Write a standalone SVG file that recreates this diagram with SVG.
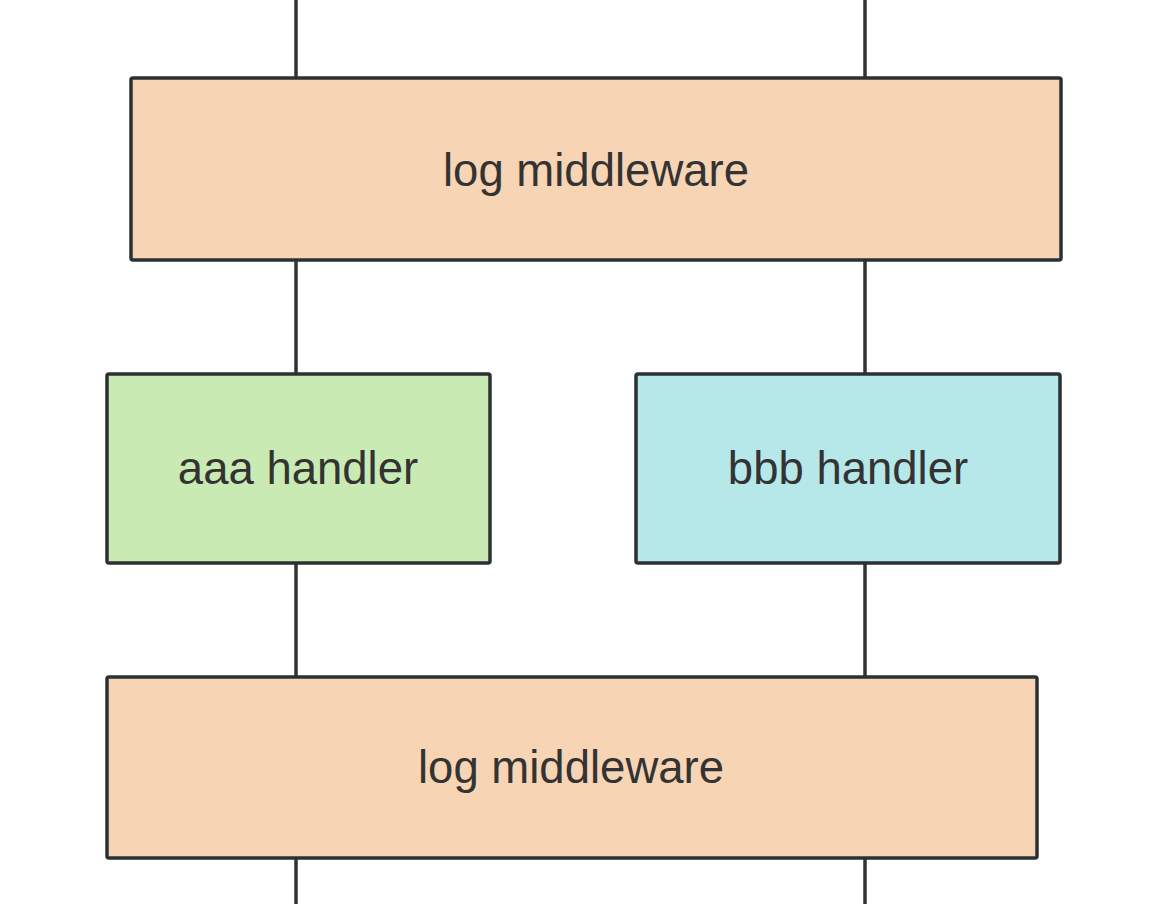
<svg xmlns="http://www.w3.org/2000/svg" width="1158" height="904" viewBox="0 0 1158 904">
<style>
.box{stroke:#2b3035;stroke-width:3.5}
.lbl{font-family:"Liberation Sans",Arial,sans-serif;font-size:45.5px;fill:#333;text-anchor:middle;dominant-baseline:central}
.conn{stroke:#333;stroke-width:3.5;fill:none}
</style>
<rect width="1158" height="904" fill="#fff"/>
<g id="connectors">
<line class="conn" x1="296" y1="0" x2="296" y2="78"/>
<line class="conn" x1="865" y1="0" x2="865" y2="78"/>
<line class="conn" x1="296" y1="260" x2="296" y2="374"/>
<line class="conn" x1="865" y1="260" x2="865" y2="374"/>
<line class="conn" x1="296" y1="563" x2="296" y2="677"/>
<line class="conn" x1="865" y1="563" x2="865" y2="677"/>
<line class="conn" x1="296" y1="858" x2="296" y2="904"/>
<line class="conn" x1="865" y1="858" x2="865" y2="904"/>
</g>
<g id="log1">
<rect class="box" x="131" y="78" width="930" height="182" rx="2" fill="#f7d4b3"/>
<text class="lbl" x="596" y="170">log middleware</text>
</g>
<g id="aaa">
<rect class="box" x="107" y="374" width="383" height="189" rx="2" fill="#c9ebb3"/>
<text class="lbl" x="298" y="468">aaa handler</text>
</g>
<g id="bbb">
<rect class="box" x="636" y="374" width="424" height="189" rx="2" fill="#b6e8e9"/>
<text class="lbl" x="848" y="468">bbb handler</text>
</g>
<g id="log2">
<rect class="box" x="107" y="677" width="930" height="181" rx="2" fill="#f7d4b3"/>
<text class="lbl" x="571" y="767">log middleware</text>
</g>
</svg>
